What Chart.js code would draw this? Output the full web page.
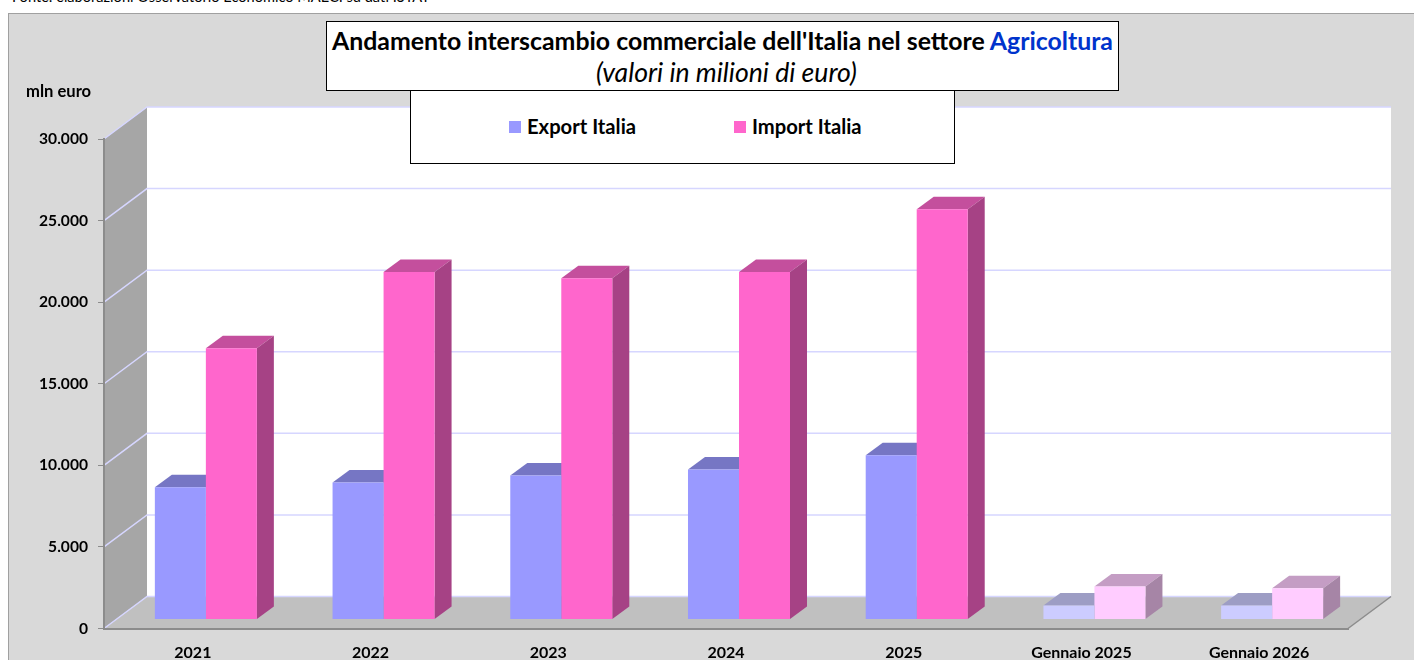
<!DOCTYPE html>
<html lang="it">
<head>
<meta charset="utf-8">
<title>Interscambio Agricoltura</title>
<script src="https://cdn.jsdelivr.net/npm/chart.js@4"></script>
<style>
    html, body { margin: 0; padding: 0; background: #fff; overflow: hidden; }
    body { width: 1414px; height: 660px; position: relative; font-family: Lato, sans-serif; color: #000; }
    #source { position: absolute; left: 12px; top: -12px; font-size: 14.6px; line-height: 18px; white-space: nowrap; }
    #frame { position: absolute; left: 8px; top: 13px; right: 0; bottom: 0; background: #d9d9d9; border-left: 1px solid #a0a0a0; border-top: 1px solid #a0a0a0; }
    #chart { position: absolute; left: 0; top: 0; }
    .box { position: absolute; background: #fff; border: 1px solid #000; box-sizing: border-box; }
    #titleBox { left: 326px; top: 21px; width: 793px; height: 70px; text-align: center; }
    #titleBox .main { font-weight: 700; font-size: 24.85px; line-height: 30px; margin-top: 3px; white-space: nowrap; }
    #titleBox .main span { color: #0033cc; }
    #titleBox .sub { font-style: italic; font-size: 26.6px; line-height: 30px; margin-top: 2px; padding-left: 8px; }
    #legendBox { left: 410px; top: 90px; width: 545px; height: 74px; }
    .legend-item { position: absolute; top: 23px; font-weight: 700; font-size: 20.2px; line-height: 24px; white-space: nowrap; }
    .legend-item i { position: absolute; top: 7px; left: -18px; width: 12px; height: 12px; }
    #unit { position: absolute; left: 26px; top: 81px; font-weight: 700; font-size: 16.6px; line-height: 20px; }
</style>
</head>
<body>
<div id="source">Fonte: elaborazioni Osservatorio Economico MAECI su dati ISTAT</div>
<div id="frame"></div>
<canvas id="chart" width="1414" height="660"></canvas>
<div id="unit">mln euro</div>
<div class="box" id="titleBox">
    <div class="main">Andamento interscambio commerciale dell'Italia nel settore <span>Agricoltura</span></div>
    <div class="sub">(valori in milioni di euro)</div>
</div>
<div class="box" id="legendBox"></div>
<script>
const categories = ['2021', '2022', '2023', '2024', '2025', 'Gennaio 2025', 'Gennaio 2026'];
const exportValues = [8100, 8400, 8830, 9200, 10060, 860, 860];
const importValues = [16630, 21290, 20920, 21290, 25150, 2020, 1920];
const exportColors = ['#9999ff', '#9999ff', '#9999ff', '#9999ff', '#9999ff', '#ccccff', '#ccccff'];
const importColors = ['#ff66cc', '#ff66cc', '#ff66cc', '#ff66cc', '#ff66cc', '#ffccff', '#ffccff'];
const yTickLabels = ['0', '5.000', '10.000', '15.000', '20.000', '25.000', '30.000'];

// 3D look: how far walls and bars sit behind the axis plane
const WALL_DX = 43, WALL_DY = 32;
const BAR_SHIFT_X = 13, BAR_SHIFT_Y = 9;
const BAR_DEPTH_X = 17, BAR_DEPTH_Y = 12.5;

function shade(hex, factor) {
    const n = parseInt(hex.slice(1), 16);
    const r = Math.round((n >> 16 & 255) * factor);
    const g = Math.round((n >> 8 & 255) * factor);
    const b = Math.round((n & 255) * factor);
    return `rgb(${r},${g},${b})`;
}

function poly(ctx, points, color) {
    ctx.fillStyle = color;
    ctx.beginPath();
    points.forEach((p, i) => i ? ctx.lineTo(p[0], p[1]) : ctx.moveTo(p[0], p[1]));
    ctx.closePath();
    ctx.fill();
}

/**
 * Side wall, back wall, floor and their gridlines, placed from the scales
 */
const wallsPlugin = {
    id: 'walls',
    beforeDraw(chart) {
        const { ctx, scales: { x, y } } = chart;
        const l = x.left, r = x.right, t = y.top, b = y.bottom;
        ctx.save();
        poly(ctx, [[l + WALL_DX, t - WALL_DY], [r + WALL_DX, t - WALL_DY], [r + WALL_DX, b - WALL_DY], [l + WALL_DX, b - WALL_DY]], '#ffffff');
        poly(ctx, [[l, t], [l + WALL_DX, t - WALL_DY], [l + WALL_DX, b - WALL_DY], [l, b]], '#a6a6a6');
        poly(ctx, [[l, b], [r, b], [r + WALL_DX, b - WALL_DY], [l + WALL_DX, b - WALL_DY]], '#c0c0c0');

        ctx.strokeStyle = '#d6d6ff';
        ctx.lineWidth = 1.5;
        y.ticks.forEach(tick => {
            const py = y.getPixelForValue(tick.value);
            ctx.beginPath();
            ctx.moveTo(l, py);
            ctx.lineTo(l + WALL_DX, py - WALL_DY);
            ctx.lineTo(r + WALL_DX, py - WALL_DY);
            ctx.stroke();
        });

        ctx.strokeStyle = '#8c8c8c';
        ctx.beginPath();
        ctx.moveTo(r, b);
        ctx.lineTo(r + WALL_DX, b - WALL_DY);
        ctx.stroke();
        ctx.restore();
    }
};

/**
 * Top and side faces of the bars, then shifts the front faces back off the axis plane
 */
const barDepthPlugin = {
    id: 'barDepth',
    beforeDatasetsDraw(chart) {
        const { ctx } = chart;
        ctx.save();
        ctx.translate(BAR_SHIFT_X, -BAR_SHIFT_Y);
        chart.data.datasets.forEach((ds, di) => {
            chart.getDatasetMeta(di).data.forEach((bar, i) => {
                const left = bar.x - bar.width / 2;
                const right = bar.x + bar.width / 2;
                const color = ds.backgroundColor[i];
                poly(ctx, [[left, bar.y], [right, bar.y], [right + BAR_DEPTH_X, bar.y - BAR_DEPTH_Y], [left + BAR_DEPTH_X, bar.y - BAR_DEPTH_Y]], shade(color, 0.77));
                poly(ctx, [[right, bar.y], [right + BAR_DEPTH_X, bar.y - BAR_DEPTH_Y], [right + BAR_DEPTH_X, bar.base - BAR_DEPTH_Y], [right, bar.base]], shade(color, 0.65));
            });
        });
    },
    afterDatasetsDraw(chart) {
        chart.ctx.restore();
    }
};

function initChart() {
    return new Chart(document.getElementById('chart'), {
        type: 'bar',
        data: {
            labels: categories,
            datasets: [
                { label: 'Export Italia', data: exportValues, backgroundColor: exportColors },
                { label: 'Import Italia', data: importValues, backgroundColor: importColors }
            ]
        },
        options: {
            responsive: false,
            animation: false,
            categoryPercentage: 0.574,
            barPercentage: 1,
            layout: { padding: { left: 0, right: 66, top: 139, bottom: 0 } },
            plugins: {
                legend: { display: false },
                tooltip: { enabled: false }
            },
            scales: {
                x: {
                    afterFit: scale => { scale.height = 31.5; },
                    grid: { display: false },
                    border: { color: '#8c8c8c', width: 2 },
                    ticks: {
                        color: '#000',
                        padding: 7,
                        maxRotation: 0,
                        font: { family: 'Lato', size: 16, weight: '700' }
                    }
                },
                y: {
                    min: 0,
                    max: 30000,
                    afterFit: scale => { scale.width = 104; },
                    grid: { drawOnChartArea: false, color: '#8c8c8c', tickLength: 6 },
                    border: { color: '#8c8c8c', width: 2 },
                    ticks: {
                        stepSize: 5000,
                        color: '#000',
                        padding: 10,
                        font: { family: 'Lato', size: 15.6, weight: '700' },
                        callback: (value, index) => yTickLabels[index]
                    }
                }
            }
        },
        plugins: [wallsPlugin, barDepthPlugin]
    });
}

/**
 * Legend box filled from the datasets
 */
function initLegend(chart) {
    const box = document.getElementById('legendBox');
    const starts = [116, 341];
    chart.data.datasets.forEach((ds, i) => {
        const item = document.createElement('div');
        item.className = 'legend-item';
        item.style.left = starts[i] + 'px';
        item.innerHTML = `<i style="background:${ds.backgroundColor[0]}"></i>${ds.label}`;
        box.appendChild(item);
    });
}

document.addEventListener('DOMContentLoaded', () => {
    initLegend(initChart());
});
</script>
</body>
</html>
